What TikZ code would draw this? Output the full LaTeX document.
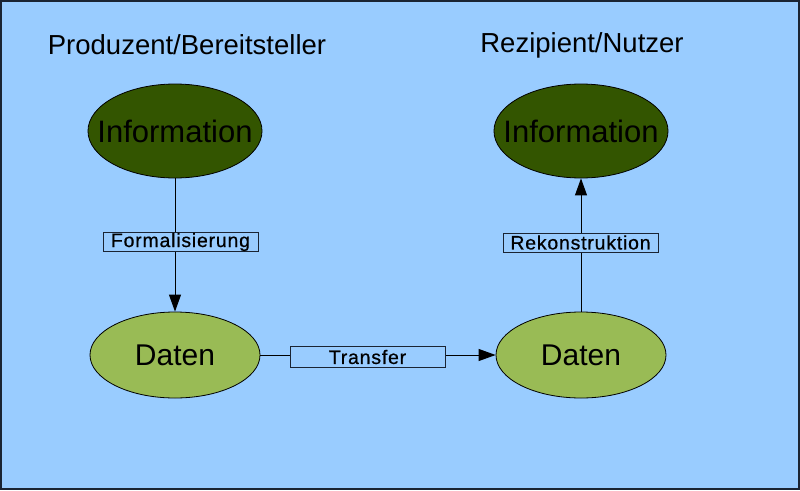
\documentclass[tikz,border=0pt]{standalone}
\usepackage{fontspec}
\setmainfont{Liberation Sans}
\newfontfamily\lblfont[LetterSpace=4,FakeBold=0.6]{Liberation Sans}
\usetikzlibrary{shapes.geometric,arrows.meta}
\definecolor{bgblue}{HTML}{99CCFF}
\definecolor{darkgreen}{HTML}{335500}
\definecolor{lightgreen}{HTML}{99BB55}
\definecolor{frame}{HTML}{1A2433}
\tikzset{
  infonode/.style={ellipse, draw=black, line width=0.8pt, fill=darkgreen, minimum width=170pt, minimum height=94pt, inner xsep=-16pt, inner ysep=0pt, font=\fontsize{31}{31}\selectfont, text=black},
  datanode/.style={ellipse, draw=black, line width=0.8pt, fill=lightgreen, minimum width=170pt, minimum height=86pt, inner sep=0pt, font=\fontsize{30}{30}\selectfont, text=black},
  lbl/.style={draw=frame, fill=bgblue, line width=0.8pt, inner sep=0pt, minimum height=19pt, font=\lblfont\fontsize{19.5}{19.5}\selectfont},
  title/.style={font=\fontsize{27.5}{27.5}\selectfont, text=black},
  conn/.style={line width=0.9pt, -{Triangle[length=17pt,width=12pt]}}
}
\begin{document}
\begin{tikzpicture}[x=1pt,y=-1pt]
\fill[bgblue] (0,0) rectangle (800,490);
\useasboundingbox (0,0) rectangle (800,490);
\draw[frame, line width=2pt] (1,1) rectangle (799,489);
\node[title] (t1) at (187,45) {Produzent/Bereitsteller};
\node[title] (t2) at (582,45) {Rezipient/Nutzer};
\node[infonode] (i1) at (175,131) {Information};
\node[infonode] (i2) at (581,131) {Information};
\node[datanode] (d1) at (175,355) {Daten};
\node[datanode] (d2) at (581,355) {Daten};
\coordinate (l1) at (180.5,242);
\coordinate (l2) at (580.5,242.5);
\coordinate (l3) at (367.5,357);
\draw[conn] (i1) -- (d1);
\draw[conn] (d1) -- (d2);
\draw[conn] (d2) -- (i2);
\node[lbl, minimum width=155pt] (n1) at (l1) {Formalisierung};
\node[lbl, minimum width=155pt] (n2) at (l2) {Rekonstruktion};
\node[lbl, minimum width=155pt, minimum height=21pt] (n3) at (l3) {Transfer};
\end{tikzpicture}
\end{document}
